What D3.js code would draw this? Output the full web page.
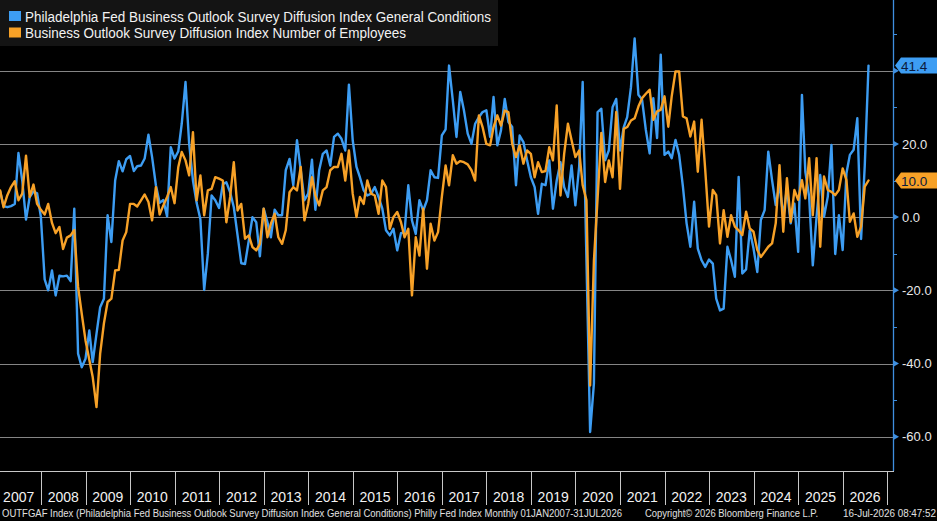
<!DOCTYPE html>
<html><head><meta charset="utf-8">
<script src="https://cdn.jsdelivr.net/npm/d3@7"></script>
<style>html,body{margin:0;padding:0;background:#000;overflow:hidden}</style>
</head><body>
<svg id="c" width="937" height="521"></svg>
<script>
// ---------- DATA ----------
const startYear = 2007;           // first observation: Jan 2007 (monthly, month-end)
const yearLabels = ["2007","2008","2009","2010","2011","2012","2013","2014","2015","2016","2017","2018","2019","2020","2021","2022","2023","2024","2025","2026"];
const seriesNames = [
  "Philadelphia Fed Business Outlook Survey Diffusion Index General Conditions",
  "Business Outlook Survey Diffusion Index Number of Employees"
];
const generalConditions = [
  7,3,2.7,3,3.6,17.5,10,-0.7,5.5,7,6.5,0,
  -17,-20,-14.6,-21.4,-16,-16.2,-16,-17.5,2.3,-37.3,-41,-38.7,
  -31,-39.6,-31.9,-24.6,-22.3,0.5,-6.8,10,15.3,12.5,15.8,16.7,
  12.6,13.9,14.1,16,22.5,16.4,8.7,3.9,4.7,0.2,19.1,16,
  18,25.5,36.9,20,10,3.9,-0.6,-19.9,-10,5.9,4.6,2.5,
  9,9.5,6.8,2.7,-5,-12.6,-12.8,-6.4,0,-1.4,-10.7,2.3,
  -1.4,-5.5,2,0.5,0.5,12.8,15.9,8.7,21,12.8,4.6,6.4,
  15.7,2,12.8,17.3,18.2,14.1,21.9,22.8,21.4,18.2,36.2,21,
  13.7,10.9,7.3,5.9,6.4,8.2,5.5,2.3,-3.6,-5,-3.2,-9.1,
  -4.4,-4.1,8.7,-0.9,-4.6,4.6,1.8,4.6,12.8,10.9,10.7,22.3,
  24,41.4,31.9,21.9,34.2,29.2,22.8,20,25.5,27.3,28.7,29.2,
  21.9,32.8,19.6,23.7,32.3,26,24.6,8.7,22.3,20.5,15.5,10.9,
  8.2,0.9,9.1,8.7,15.5,2.3,10,15,8.2,5.5,14.1,3.2,
  13.7,36.9,-12,-58.7,-45.5,28.7,29.6,15.5,18.2,30,32.3,18.2,
  24.6,27.3,35.5,48.8,33.4,32.1,23.8,17.4,32.5,21.6,44.4,17,
  17.9,16.1,21.1,17,8.3,-1.7,-8.1,4.2,-8.6,-11.8,-13.6,-11.6,
  -12.7,-22.3,-25.5,-25,-8.1,-11.8,-16.3,11,-15.4,-14.3,-3.6,-8.6,
  -15,-0.8,1.9,17.9,10.1,3.3,8.8,0.1,7.9,-1.7,3.7,-9.5,
  33.4,12.4,5.6,-13.2,0.1,11.5,0.1,5.6,19.7,-10.1,0.5,-9,
  12,17,18.4,27,-6,14,41.4
];
const numberOfEmployees = [
  7.3,2.7,6,8.2,9.8,4.6,6.4,16.8,5.5,8.9,3.6,2,
  0.7,3.6,-1.6,-4.4,-2.7,-8.7,-5.6,-5,-3.5,-19,-26.4,-33.7,
  -39,-43.7,-51.9,-37.3,-29,-23.2,-22.3,-14.6,-14.4,-6.4,-4.1,3.6,
  3.6,2.9,4.6,6.2,4.1,-0.9,8.2,0.7,3.2,5.5,8.2,3.8,
  13.7,17.8,15.5,11.4,23.2,4.6,11.4,0.5,7.3,7.7,10.9,10.5,
  10,-1.4,5.5,15,1.8,3.6,-5.9,-5,-8.2,-9.1,-7.3,2.3,
  -5.5,-1.8,0.9,-5.5,-7.3,-3.6,6.8,8.2,7.3,13.7,-0.9,3.6,
  10.9,5.9,3.2,7.3,8.2,12.8,13.7,13.7,17.3,10,18.2,6.4,
  0,5.5,3.6,10,6.4,5.9,0.9,10,8.2,-3.2,0,1.4,
  -1.4,-5.5,-3.2,-21.4,-5.5,-10.5,2.3,-14.1,-1.8,-6.4,-4.1,5.5,
  14.1,8.7,16.9,14.6,15.3,15,14.4,12.8,10,27.8,24.6,20,
  19.6,24.6,27.8,25,29.1,28.7,20,16.4,19.6,14.6,18.2,17.3,
  10.9,15,12.3,12.6,19.1,15.5,30.5,5.9,17.3,25.5,21,16.4,
  18.2,8.7,4.6,-46,-12,5,23,9.6,15.5,10.9,28.7,7.7,
  24.1,24.6,26.4,27,30.2,32.5,33.7,34.8,26.6,28.9,29.3,33,
  24.7,33,39.8,39.8,27.5,27,22,26.1,12.4,26.6,12.9,-2.6,
  7.4,6,-7.2,1.9,-5.4,0.5,-2.6,-3.6,-4.9,1.5,-3.1,-4,
  -9,-10.9,-9.5,-8.1,-7.2,-1.7,14.2,-4,10.6,-1.3,7.4,4.7,
  10.1,5.1,16.1,0.5,16.1,-8.1,11.1,7.4,6.9,6,7.4,13.3,
  10.1,-1.3,1,-5.4,-2.6,8.3,10
];
const yTicks = [-60, -40, -20, 0, 20, 40];
const yMinorTicks = [-50, -30, -10, 10, 30, 50];
const footerLeft = "OUTFGAF Index (Philadelphia Fed Business Outlook Survey Diffusion Index General Conditions) Philly Fed Index Monthly 01JAN2007-31JUL2026";
const footerMid = "Copyright\u00A9 2026 Bloomberg Finance L.P.";
const footerRight = "16-Jul-2026 08:47:52";

// ---------- STYLE / LAYOUT ----------
const BLUE = "#3d9df3", ORANGE = "#f7a127", AXIS = "#3f8fe0";
const axisX = 893, plotBottom = 471;
const svg = d3.select("#c");
svg.append("rect").attr("width", 937).attr("height", 521).attr("fill", "#000");

const x = d3.scaleTime()
  .domain([new Date(startYear, 0, 1), new Date(startYear + yearLabels.length, 0, 1)])
  .range([-3.5, 887.3]);
const y = d3.scaleLinear().domain([-60, 20]).range([436.7, 143.9]);

const dates = generalConditions.map((_, i) => new Date(startYear, i + 1, 0));
const lastValues = [generalConditions[generalConditions.length - 1], numberOfEmployees[numberOfEmployees.length - 1]];

// gridlines
svg.append("g").selectAll("line").data(yTicks).join("line")
  .attr("x1", 0).attr("x2", axisX)
  .attr("y1", d => Math.round(y(d)) + 0.5).attr("y2", d => Math.round(y(d)) + 0.5)
  .attr("stroke", "#858585").attr("stroke-width", 1);

// clip
svg.append("clipPath").attr("id", "plotclip").append("rect")
  .attr("x", 0).attr("y", 0).attr("width", axisX).attr("height", plotBottom);

const line = d3.line().x((d, i) => x(dates[i])).y(d => y(d));
const lines = svg.append("g").attr("clip-path", "url(#plotclip)");
lines.append("path").datum(generalConditions).attr("d", line)
  .attr("fill", "none").attr("stroke", BLUE).attr("stroke-width", 2.4)
  .attr("stroke-linejoin", "round").attr("stroke-linecap", "round");
lines.append("path").datum(numberOfEmployees).attr("d", line)
  .attr("fill", "none").attr("stroke", ORANGE).attr("stroke-width", 2.4)
  .attr("stroke-linejoin", "round").attr("stroke-linecap", "round");

// right axis
const ax = svg.append("g");
ax.append("line").attr("x1", axisX + 0.5).attr("x2", axisX + 0.5).attr("y1", 0).attr("y2", plotBottom)
  .attr("stroke", AXIS).attr("stroke-width", 1.3);
ax.selectAll("path.tri").data(yTicks).join("path").attr("class", "tri")
  .attr("d", d => { const c = y(d); return `M${axisX},${c - 3.5}L${axisX + 6},${c}L${axisX},${c + 3.5}Z`; })
  .attr("fill", AXIS);
ax.selectAll("line.minor").data(yMinorTicks).join("line").attr("class", "minor")
  .attr("x1", axisX).attr("x2", axisX + 4)
  .attr("y1", d => Math.round(y(d)) + 0.5).attr("y2", d => Math.round(y(d)) + 0.5)
  .attr("stroke", AXIS).attr("stroke-width", 1);
// tick labels hidden where a last-value tag covers them (as in the reference)
const visibleTicks = yTicks.filter(t => lastValues.every(v => Math.abs(y(t) - y(v)) > 12));
ax.selectAll("text").data(visibleTicks).join("text")
  .attr("x", 902).attr("y", d => y(d) + 4.6)
  .attr("fill", "#e8e8e8").attr("font-family", "Liberation Sans, Arial, sans-serif")
  .attr("font-size", 13).text(d => d.toFixed(1));

// last-value labels
function valueTag(v, color) {
  const c = y(v);
  const g = svg.append("g");
  g.append("path").attr("d", `M${axisX + 2},${c}L${axisX + 8},${c - 8}L937,${c - 8}L937,${c + 8}L${axisX + 8},${c + 8}Z`)
    .attr("fill", color);
  g.append("text").attr("x", 901).attr("y", c + 5).attr("fill", "#0b1b3d")
    .attr("font-family", "Liberation Sans, Arial, sans-serif").attr("font-size", 13.5)
    .text(v.toFixed(1));
}
valueTag(lastValues[1], ORANGE);
valueTag(lastValues[0], BLUE);

// bottom time axis
const bx = svg.append("g");
bx.append("line").attr("x1", 0).attr("x2", axisX + 1).attr("y1", plotBottom + 0.5).attr("y2", plotBottom + 0.5)
  .attr("stroke", "#c8c8c8").attr("stroke-width", 1);
const bounds = yearLabels.map((_, i) => new Date(startYear + i + 1, 0, 1));
bx.selectAll("line.sep").data(bounds).join("line").attr("class", "sep")
  .attr("x1", d => Math.round(x(d)) + 0.5).attr("x2", d => Math.round(x(d)) + 0.5)
  .attr("y1", plotBottom).attr("y2", 505)
  .attr("stroke", "#c8c8c8").attr("stroke-width", 1);
bx.selectAll("text").data(yearLabels).join("text")
  .attr("x", d => x(new Date(+d, 6, 2)))
  .attr("y", 502).attr("text-anchor", "middle")
  .attr("fill", "#f2f2f2").attr("font-family", "Liberation Sans, Arial, sans-serif")
  .attr("font-size", 14).text(d => d);

// footer
const ft = svg.append("g").attr("font-family", "Liberation Sans, Arial, sans-serif").attr("font-size", 10).attr("fill", "#e0e0e0");
ft.append("text").attr("x", 2).attr("y", 517).attr("textLength", 620).attr("lengthAdjust", "spacingAndGlyphs").text(footerLeft);
ft.append("text").attr("x", 645).attr("y", 517).attr("textLength", 173).attr("lengthAdjust", "spacingAndGlyphs").text(footerMid);
ft.append("text").attr("x", 843).attr("y", 517).attr("textLength", 93).attr("lengthAdjust", "spacingAndGlyphs").text(footerRight);

// legend
const lg = svg.append("g");
lg.append("rect").attr("x", 0).attr("y", 0).attr("width", 498).attr("height", 46).attr("fill", "#141414");
const colors = [BLUE, ORANGE];
const lengths = [466, 381];
seriesNames.forEach((name, i) => {
  lg.append("rect").attr("x", 9).attr("y", 11 + i * 16.5).attr("width", 12).attr("height", 10).attr("fill", colors[i]);
  lg.append("text").attr("x", 25).attr("y", 21.5 + i * 16.5)
    .attr("fill", "#f2f2f2").attr("font-family", "Liberation Sans, Arial, sans-serif").attr("font-size", 14)
    .attr("textLength", lengths[i]).attr("lengthAdjust", "spacingAndGlyphs").text(name);
});
</script>
</body></html>
